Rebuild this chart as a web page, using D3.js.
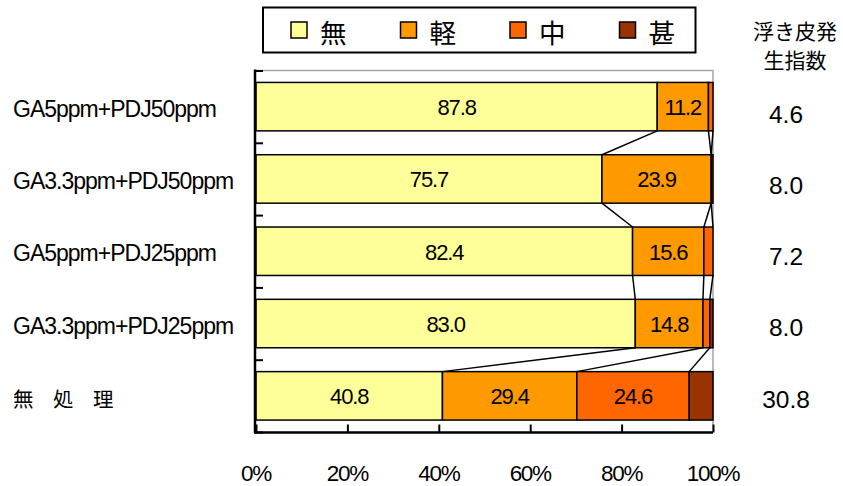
<!DOCTYPE html>
<html><head><meta charset="utf-8">
<script src="https://cdn.jsdelivr.net/npm/d3@7"></script>
<style>
html,body{margin:0;padding:0;background:#fff;}
svg{display:block;}
.lat{font-family:"Liberation Sans",Arial,sans-serif;}
.cjk{font-family:"Noto Sans CJK JP","Noto Sans CJK SC",sans-serif;}
</style></head>
<body>
<svg id="c" width="843" height="486"></svg>
<script>
const categories = ["GA5ppm+PDJ50ppm","GA3.3ppm+PDJ50ppm","GA5ppm+PDJ25ppm","GA3.3ppm+PDJ25ppm","無　処　理"];
const seriesNames = ["無","軽","中","甚"];
const none = [87.8, 75.7, 82.4, 83.0, 40.8];
const light = [11.2, 23.9, 15.6, 14.8, 29.4];
const medium = [1.0, 0.0, 2.0, 1.5, 24.6];
const severe = [0.0, 0.4, 0.0, 0.7, 5.2];
const indexValues = ["4.6","8.0","7.2","8.0","30.8"];
const xTicks = [0,20,40,60,80,100];
const indexTitle = ["浮き皮発","生指数"];
const colors = ["#FFFF99","#FF9900","#FF6600","#993300"];

const svg = d3.select("#c");
const x = d3.scaleLinear().domain([0,100]).range([256,713]);
const y = d3.scaleBand().domain(categories).range([70.5,432]).paddingInner(0.33).paddingOuter(0.165);
const bw = y.bandwidth();

const rows = categories.map((c,i)=>({cat:c, "無":none[i], "軽":light[i], "中":medium[i], "甚":severe[i]}));
const stack = d3.stack().keys(seriesNames)(rows);

// frame (top & right, grey)
svg.append("path").attr("d",`M${x(0)},70.5H${x(100)}V432`).attr("fill","none").attr("stroke","#a6a6a6").attr("stroke-width",1.5);

// series lines
const lines = svg.append("g");
for(let k=0;k<seriesNames.length-1;k++){
  for(let i=0;i<categories.length-1;i++){
    const a = stack[k][i][1], b = stack[k][i+1][1];
    lines.append("line")
      .attr("x1",x(a)).attr("y1",y(categories[i])+bw)
      .attr("x2",x(b)).attr("y2",y(categories[i+1]))
      .attr("stroke","#000").attr("stroke-width",1.5);
  }
}

// bars
stack.forEach((s,k)=>{
  svg.append("g").selectAll("rect").data(s.filter(d=>d[1]-d[0]>0)).join("rect")
    .attr("x",d=>x(d[0])).attr("width",d=>x(d[1])-x(d[0]))
    .attr("y",d=>y(d.data.cat)).attr("height",bw)
    .attr("fill",colors[k]).attr("stroke","#000").attr("stroke-width",1.5);
});

// value labels
stack.forEach((s,k)=>{
  svg.append("g").selectAll("text").data(s.filter(d=>d[1]-d[0]>=8)).join("text")
    .attr("class","lat")
    .attr("x",d=>x((d[0]+d[1])/2)).attr("y",d=>y(d.data.cat)+bw/2+1)
    .attr("text-anchor","middle").attr("dominant-baseline","central")
    .attr("font-size",22).attr("letter-spacing",-1.1)
    .text(d=>(d[1]-d[0]).toFixed(1));
});

// y axis
const yl = d3.scaleLinear().domain([0,categories.length]).range([70.5,432]);
const yAxis = svg.append("g").attr("transform","translate(255,0)")
  .call(d3.axisRight(yl).ticks(5).tickSize(8).tickFormat(""));
yAxis.select(".domain").attr("stroke","#000").attr("stroke-width",2.5).attr("d","M0,69.5V433");
yAxis.selectAll(".tick line").attr("stroke","#000").attr("stroke-width",2);

// x axis
const xAxis = svg.append("g").attr("transform","translate(0,432.5)")
  .call(d3.axisBottom(x).tickValues(xTicks).tickSizeInner(-8).tickSizeOuter(0).tickFormat(""));
xAxis.select(".domain").attr("stroke","#000").attr("stroke-width",2.5).attr("d",`M254,0H${x(100)}`);
xAxis.selectAll(".tick line").attr("stroke","#000").attr("stroke-width",2);
svg.append("g").selectAll("text").data(xTicks).join("text")
  .attr("class","lat").attr("x",d=>x(d)).attr("y",473)
  .attr("text-anchor","middle").attr("dominant-baseline","central")
  .attr("font-size",22.5).attr("letter-spacing",-1.3)
  .text(d=>d+"%");

// category labels
svg.append("g").selectAll("text").data(categories).join("text")
  .attr("class",(d,i)=>i===4?"cjk":"lat")
  .attr("x",13).attr("y",d=>y(d)+bw/2+2)
  .attr("dominant-baseline","central")
  .attr("font-size",(d,i)=>i===4?20.5:23)
  .attr("letter-spacing",(d,i)=>i===4?-0.5:-1)
  .text(d=>d);

// index values
svg.append("g").selectAll("text").data(indexValues).join("text")
  .attr("class","lat").attr("x",786).attr("y",(d,i)=>y(categories[i])+bw/2+8 - i*1.2)
  .attr("text-anchor","middle").attr("dominant-baseline","central")
  .attr("font-size",24.5)
  .text(d=>d);
svg.append("g").selectAll("text").data(indexTitle).join("text")
  .attr("class","cjk").attr("x",795).attr("y",(d,i)=>30+i*29)
  .attr("text-anchor","middle").attr("dominant-baseline","central")
  .attr("font-size",21)
  .text(d=>d);

// legend
const lg = svg.append("g");
lg.append("rect").attr("x",263).attr("y",7.5).attr("width",432.5).attr("height",45)
  .attr("fill","#fff").attr("stroke","#000").attr("stroke-width",2);
const li = lg.selectAll("g").data(seriesNames).join("g")
  .attr("transform",(d,i)=>`translate(${291+i*109.5},0)`);
li.append("rect").attr("x",0).attr("y",22).attr("width",16).attr("height",16)
  .attr("fill",(d,i)=>colors[i]).attr("stroke","#000").attr("stroke-width",1.5);
li.append("text").attr("class","cjk").attr("x",29).attr("y",31)
  .attr("dominant-baseline","central").attr("font-size",26.5)
  .text(d=>d);
</script>
</body></html>
